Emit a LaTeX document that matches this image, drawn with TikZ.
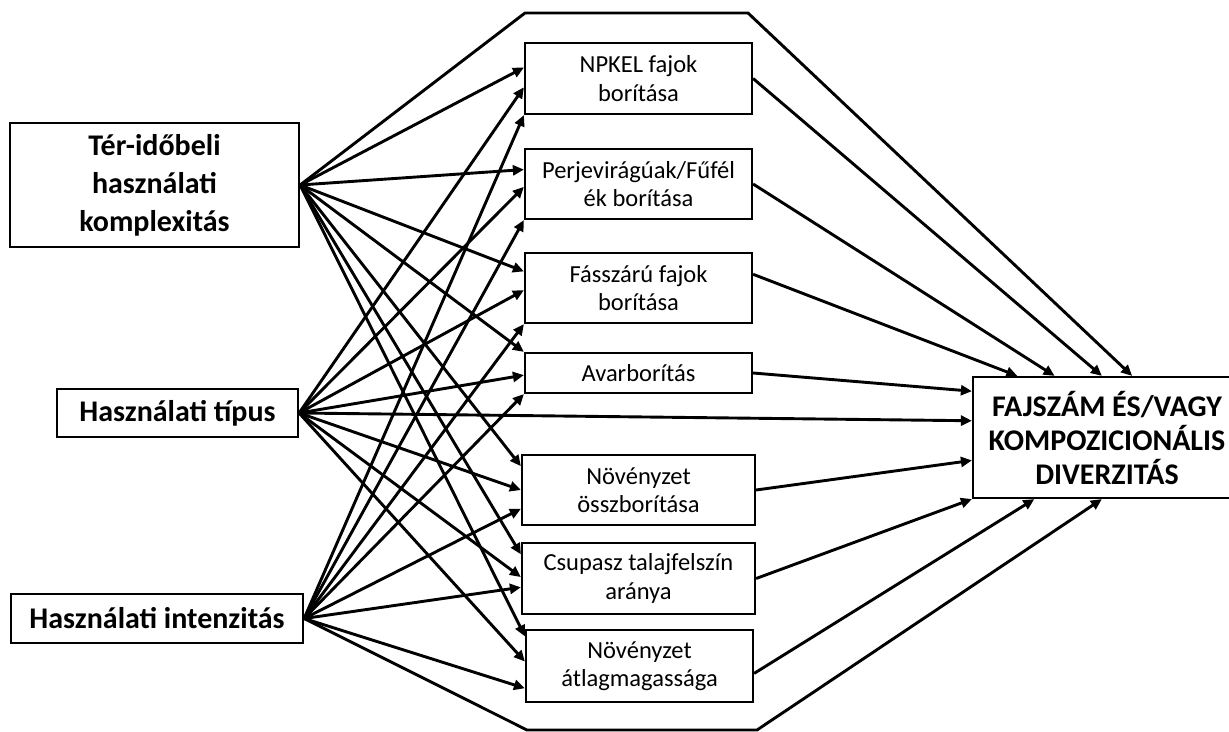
\documentclass[tikz,border=0pt]{standalone}
\usepackage{fontspec}
\setmainfont{Carlito}
\usetikzlibrary{calc,arrows.meta}
\begin{document}
\begin{tikzpicture}[x=1pt,y=-1pt]
  % Styles
  \tikzstyle{factor box}=[draw,line width=2.2pt,inner sep=0pt,align=center,
    font=\fontsize{30}{38}\selectfont\bfseries]
  \tikzstyle{cover box}=[draw,line width=2.2pt,inner sep=0pt,align=center,
    font=\fontsize{24.5}{28.5}\selectfont]
  \tikzstyle{result box}=[draw,line width=2.2pt,inner sep=0pt,align=center,
    font=\fontsize{30}{34}\selectfont\bfseries]
  \tikzstyle{effect}=[line width=2.9pt,-{Triangle[length=11pt,width=10pt]}]

  \useasboundingbox (0,0) rectangle (1229,731);

  % Use factors
  \node[factor box,minimum width=289pt,minimum height=124pt] (ter) at (154.5,185)
    {Tér-időbeli\\használati\\komplexitás};
  \node[factor box,minimum width=241pt,minimum height=48pt] (tipus) at (177.5,413)
    {Használati típus};
  \node[factor box,minimum width=292pt,minimum height=49pt] (intenz) at (157,618.5)
    {Használati intenzitás};

  % Vegetation variables
  \node[cover box,minimum width=227pt,minimum height=71pt] (npkel) at (638.5,78.5)
    {NPKEL fajok\\borítása};
  \node[cover box,minimum width=227pt,minimum height=70pt] (perje) at (638.5,184)
    {Perjevirágúak/Fűfél\\ék borítása};
  \node[cover box,minimum width=227pt,minimum height=70pt] (fas) at (638.5,288)
    {Fásszárú fajok\\borítása};
  \node[cover box,minimum width=227pt,minimum height=40pt] (avar) at (638.5,373)
    {Avarborítás};
  \node[cover box,minimum width=233pt,minimum height=70pt] (ossz) at (638.5,490)
    {Növényzet\\összborítása};
  \node[cover box,minimum width=233pt,minimum height=71pt] (csupasz) at (638.5,578.5)
    {Csupasz talajfelszín\\aránya};
  \node[cover box,minimum width=227pt,minimum height=72pt] (atlag) at (639.5,666)
    {Növényzet\\átlagmagassága};

  % Diversity
  \node[result box,minimum width=268pt,minimum height=121pt] (target) at (1107,437.5)
    {FAJSZÁM ÉS/VAGY\\KOMPOZICIONÁLIS\\DIVERZITÁS};

  \coordinate (tl) at (525,13);
  \coordinate (tr) at (748,13);
  \coordinate (bl) at (527,730);
  \coordinate (br) at (757,730);

  % Use factors -> vegetation
  \foreach \dst/\a/\b/\c in {npkel/.35/.62/1, perje/.3/.54/1, fas/.27/.53/1,
      avar/0/.55/1, ossz/.17/.5/.76, csupasz/.17/.48/.62, atlag/.1/.44/.8}
  {
    \draw[effect] (ter.east) -- ($(\dst.north west)!\a!(\dst.south west)$);
    \draw[effect] (tipus.east) -- ($(\dst.north west)!\b!(\dst.south west)$);
    \draw[effect] (intenz.east) -- ($(\dst.north west)!\c!(\dst.south west)$);
  }

  % Vegetation -> diversity
  \draw[effect] ($(fas.north east)!.31!(fas.south east)$) --
    ($(target.north west)!.168!(target.north east)$);
  \draw[effect] (perje.east) -- ($(target.north west)!.306!(target.north east)$);
  \draw[effect] (npkel.east) -- ($(target.north west)!.481!(target.north east)$);
  \draw[effect] (avar.east) -- ($(target.north west)!.124!(target.south west)$);
  \draw[effect] (ossz.east) -- ($(target.north west)!.686!(target.south west)$);
  \draw[effect] (csupasz.east) -- (target.south west);
  \draw[effect] ($(atlag.north east)!.6!(atlag.south east)$) --
    ($(target.south west)!.231!(target.south east)$);

  % Direct effects
  \draw[effect] (ter.east) -- (tl) -- (tr) --
    ($(target.north west)!.593!(target.north east)$);
  \draw[effect] (tipus.east) -- ($(target.north west)!.364!(target.south west)$);
  \draw[effect] (intenz.east) -- (bl) -- (br) --
    ($(target.south west)!.481!(target.south east)$);
\end{tikzpicture}
\end{document}
